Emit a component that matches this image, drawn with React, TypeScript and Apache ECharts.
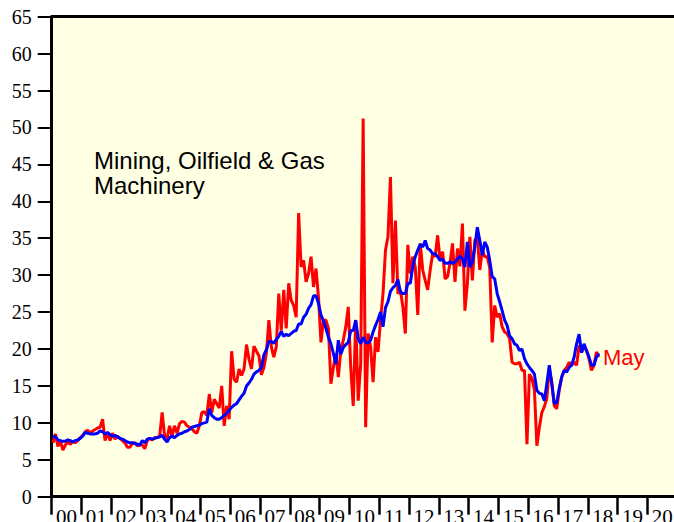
import React, { useEffect, useRef } from "react";
import * as echarts from "echarts";

// Year labels on the x axis (2000 - 2020)
const yearLabels = ["00","01","02","03","04","05","06","07","08","09","10","11","12","13","14","15","16","17","18","19","20"];

// Monthly values, Jan 2000 - May 2018 (red)
const monthly2000_2006 = [
  7.3, 8.5, 6.8, 7.6, 6.3, 7.0, 7.4, 7.1, 7.5, 7.3, 7.6, 8.0,
  8.3, 8.8, 9.0, 8.6, 8.9, 9.1, 9.3, 9.4, 10.5, 7.6, 8.7, 7.6,
  8.6, 7.8, 8.2, 7.9, 7.6, 7.3, 6.7, 6.7, 7.2, 7.3, 6.9, 7.0,
  7.0, 6.5, 7.6, 7.9, 7.7, 8.0, 8.0, 8.2, 11.4, 8.2, 7.9, 9.6,
  8.2, 9.6, 8.6, 9.9, 10.2, 10.1, 9.6, 9.4, 9.2, 8.8, 8.6, 9.6,
  11.4, 11.5, 11.0, 13.9, 11.4, 13.2, 12.6, 12.0, 15.0, 9.6, 12.3, 10.5,
  19.7, 15.9, 15.5, 17.3, 16.4, 17.3, 20.6, 18.6, 17.3, 20.4, 19.7, 19.1,
];
const monthly2007_2012 = [
  16.5, 17.5, 19.4, 23.9, 20.3, 18.9, 20.3, 27.5, 22.5, 28.0, 22.8, 28.9,
  26.6, 25.9, 24.3, 38.4, 31.1, 32.0, 29.1, 30.2, 32.5, 28.4, 30.9, 27.0,
  20.9, 23.9, 23.9, 22.8, 15.3, 17.5, 19.4, 16.2, 19.8, 21.2, 23.0, 25.7,
  17.5, 12.3, 23.9, 13.0, 18.0, 51.2, 9.4, 22.1, 20.3, 15.5, 21.6, 19.6,
  23.9, 27.5, 33.4, 35.2, 43.3, 28.9, 37.4, 27.5, 28.0, 25.7, 22.1, 34.1,
  30.2, 32.5, 31.1, 24.6, 34.3, 30.7, 29.3, 28.0, 30.7, 32.9, 32.5, 35.4,
];
const monthly2013_2018 = [
  32.0, 33.2, 29.5, 29.8, 31.6, 34.3, 29.1, 33.6, 31.2, 37.0, 25.2, 28.9,
  35.2, 29.3, 34.7, 35.2, 30.7, 33.4, 32.5, 32.5, 31.0, 20.9, 25.9, 24.3,
  24.8, 23.0, 22.3, 22.1, 21.4, 18.2, 18.0, 18.0, 18.2, 17.1, 17.1, 7.1,
  16.6, 16.0, 14.5, 6.9, 9.4, 11.4, 12.2, 13.3, 17.3, 15.5, 12.3, 11.9,
  14.4, 16.2, 17.1, 17.5, 18.2, 17.8, 18.2, 17.8, 20.5, 19.6, 20.3, 19.8,
  18.7, 17.1, 17.8, 19.6, 18.9,
];

// Moving average, Jan 2000 - May 2018 (blue)
const average2000_2006 = [
  8.2, 8.1, 7.7, 7.6, 7.5, 7.5, 7.7, 7.6, 7.4, 7.6, 7.7, 7.9,
  8.2, 8.7, 8.6, 8.5, 8.5, 8.5, 8.6, 8.9, 8.8, 8.5, 8.7, 8.4,
  8.2, 8.3, 8.1, 7.9, 7.8, 7.6, 7.4, 7.3, 7.3, 7.2, 7.1, 7.0,
  7.6, 7.3, 7.8, 7.9, 7.8, 7.9, 8.0, 8.1, 8.3, 7.8, 7.4, 8.0,
  8.2, 8.0, 8.3, 8.5, 8.6, 8.8, 8.9, 9.1, 9.4, 9.5, 9.6, 9.7,
  9.9, 10.0, 10.1, 11.9, 11.0, 10.7, 10.5, 10.5, 10.7, 11.0, 11.3, 11.7,
  12.1, 12.4, 12.6, 13.1, 13.6, 14.0, 15.0, 15.4, 15.9, 16.6, 16.9, 17.1,
];
const average2007_2012 = [
  17.5, 19.2, 19.9, 21.0, 21.0, 20.8, 21.3, 21.7, 22.4, 21.7, 22.0, 21.8,
  22.1, 22.4, 22.5, 23.4, 23.4, 24.3, 24.7, 25.5, 26.0, 27.2, 27.2, 26.2,
  24.6, 23.8, 22.8, 21.6, 20.7, 19.4, 18.0, 21.2, 19.3, 20.2, 20.6, 20.9,
  22.5, 22.5, 23.9, 21.4, 20.7, 21.6, 20.9, 20.8, 21.2, 22.3, 23.2, 24.0,
  25.0, 23.0, 25.6, 26.4, 27.8, 28.3, 28.6, 29.4, 27.7, 27.5, 27.5, 28.9,
  28.9, 31.2, 32.5, 33.4, 34.2, 33.8, 34.7, 33.6, 33.4, 32.9, 32.9, 32.5,
];
const average2013_2018 = [
  32.0, 32.2, 31.6, 31.6, 31.8, 31.6, 31.8, 32.2, 32.6, 32.2, 31.1, 34.5,
  31.1, 31.8, 33.8, 36.5, 34.7, 32.7, 34.5, 33.8, 32.0, 29.8, 29.5, 27.5,
  26.4, 25.2, 23.9, 23.2, 21.8, 21.4, 20.7, 20.5, 19.8, 20.0, 18.7, 18.0,
  17.5, 17.1, 16.6, 14.4, 14.0, 13.9, 13.0, 15.3, 17.8, 15.3, 12.6, 12.8,
  14.6, 16.2, 17.1, 16.9, 17.5, 17.8, 18.9, 20.7, 22.0, 19.5, 20.7, 19.8,
  18.9, 17.8, 17.8, 18.9, 19.4,
];

const startYear = 2000;
const lastMonthLabel = "May";

const monthly = [...monthly2000_2006, ...monthly2007_2012, ...monthly2013_2018];
const average = [...average2000_2006, ...average2007_2012, ...average2013_2018];

const toPoints = (vals: number[]) => vals.map((v, i) => [startYear + (i + 0.5) / 12, v]);

export default function App() {
  const ref = useRef<HTMLDivElement>(null);
  useEffect(() => {
    if (!ref.current) return;
    const chart = echarts.init(ref.current, null, { renderer: "svg" });
    const serif = "'Liberation Serif', 'Times New Roman', serif";
    const sans = "'Liberation Sans', Arial, Helvetica, sans-serif";
    chart.setOption({
      animation: false,
      grid: {
        left: 51.7,
        top: 16.7,
        width: 625.4,
        height: 480,
        show: true,
        backgroundColor: "#ffffe3",
        borderWidth: 0,
        containLabel: false,
        outerBoundsMode: "none",
      },
      xAxis: [
        { type: "value", min: 2000, max: 2021, show: false },
        {
          type: "category",
          data: yearLabels,
          position: "bottom",
          boundaryGap: true,
          axisLine: { show: true, lineStyle: { color: "#000", width: 3 } },
          axisTick: { show: true, interval: 0, length: 18, lineStyle: { color: "#000", width: 2.5 } },
          axisLabel: { interval: 0, margin: 10, fontFamily: serif, fontSize: 21, color: "#000" },
          splitLine: { show: false },
        },
        {
          type: "category",
          data: yearLabels,
          position: "top",
          axisLine: { show: true, lineStyle: { color: "#000", width: 3 } },
          axisTick: { show: false },
          axisLabel: { show: false },
          splitLine: { show: false },
        },
      ],
      yAxis: {
        type: "value",
        min: 0,
        max: 65,
        interval: 5,
        axisLine: { show: true, lineStyle: { color: "#000", width: 3 } },
        axisTick: { show: true, length: 14, lineStyle: { color: "#000", width: 2 } },
        axisLabel: { margin: 20, fontFamily: serif, fontSize: 20, color: "#000", padding: [4, 0, 0, 0] },
        splitLine: { show: false },
      },
      graphic: [
        {
          type: "text",
          left: 94,
          top: 148,
          z: 10,
          style: {
            text: "Mining, Oilfield & Gas\nMachinery",
            font: `24px ${sans}`,
            fill: "#000",
            lineHeight: 25,
          },
        },
      ],
      series: [
        {
          type: "line",
          xAxisIndex: 0,
          data: toPoints(monthly),
          showSymbol: false,
          lineStyle: { color: "#ff0000", width: 3 },
          itemStyle: { color: "#ff0000" },
          endLabel: {
            show: true,
            formatter: lastMonthLabel,
            color: "#ff0000",
            fontSize: 22,
            fontFamily: sans,
            distance: 4,
          },
          z: 2,
        },
        {
          type: "line",
          xAxisIndex: 0,
          data: toPoints(average),
          showSymbol: false,
          lineStyle: { color: "#0000ff", width: 3 },
          itemStyle: { color: "#0000ff" },
          z: 3,
        },
      ],
    });
    return () => chart.dispose();
  }, []);
  return (
    <div
      ref={ref}
      style={{ position: "fixed", left: 0, top: 0, width: 674, height: 522, background: "#fff" }}
    />
  );
}
